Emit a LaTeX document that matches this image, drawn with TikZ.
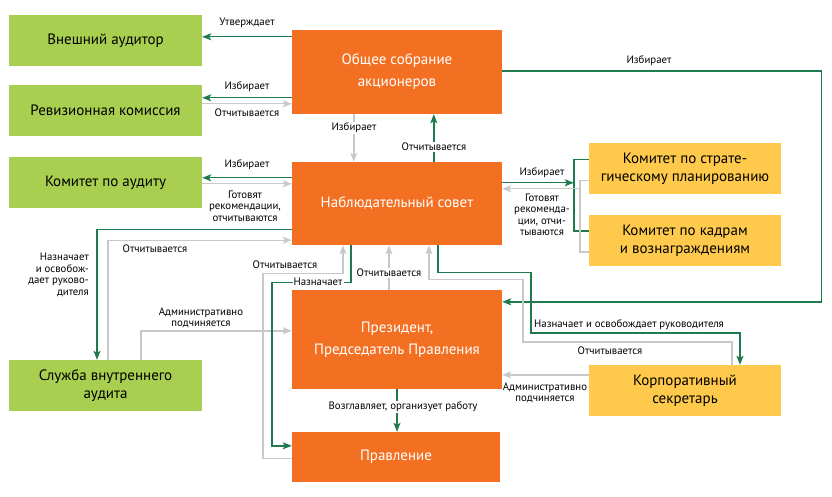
\documentclass[tikz,border=0pt]{standalone}
\usepackage{fontspec}
\setmainfont{PT Sans}
\usetikzlibrary{arrows.meta}
\definecolor{boxgreen}{HTML}{A8CF50}
\definecolor{boxorange}{HTML}{F37022}
\definecolor{boxyellow}{HTML}{FFCA4B}
\definecolor{linegreen}{HTML}{1F7A4D}
\definecolor{linegrey}{HTML}{C8C8C8}
\begin{document}
\begin{tikzpicture}[x=1pt,y=-1pt,
  box/.style={inner sep=0pt,align=center,font=\fontsize{15}{18}\selectfont},
  greenbox/.style={box,fill=boxgreen,minimum width=193pt,minimum height=51pt},
  yellowbox/.style={box,fill=boxyellow,minimum width=192pt,minimum height=51pt},
  orangebox/.style={box,fill=boxorange,text=white,minimum width=210pt,font=\fontsize{15}{22}\selectfont},
  gline/.style={draw=linegreen,line width=1.4pt,-{Stealth[length=9pt,width=7pt,inset=2pt]}},
  grline/.style={draw=linegrey,line width=1.4pt,-{Stealth[length=9pt,width=7pt,inset=2pt]}},
  lbl/.style={inner sep=1pt,align=center,font=\fontsize{10.8}{11.5}\selectfont}]
\useasboundingbox (0,0) rectangle (832,497);

\node[greenbox] (ext) at (105.5,40.5) {Внешний аудитор};
\node[greenbox] (rev) at (105.5,110.5) {Ревизионная комиссия};
\node[greenbox] (aud) at (105.5,182.5) {Комитет по аудиту};
\node[greenbox] (sva) at (105.5,385.5) {Служба внутреннего\\аудита};
\node[orangebox,minimum height=84pt] (gsm) at (397,72) {Общее собрание\\акционеров};
\node[orangebox,minimum height=83pt] (sov) at (397,203.5) {Наблюдательный совет};
\node[orangebox,minimum height=99pt] (pres) at (397,339.5) {Президент,\\Председатель Правления};
\node[orangebox,minimum width=208pt,minimum height=50pt] (prav) at (396,457) {Правление};
\node[yellowbox] (strat) at (685,168.5) {Комитет по страте-\\гическому планированию};
\node[yellowbox] (kadr) at (685,240.5) {Комитет по кадрам\\и вознаграждениям};
\node[yellowbox] (sec) at (685,390.5) {Корпоративный\\секретарь};

% general meeting
\path[gline] ([yshift=-7pt]gsm.north west) -- ([yshift=-22pt]ext.north east);
\path[gline] ([yshift=-68pt]gsm.north west) -- ([yshift=-13pt]rev.north east);
\path[grline] ([yshift=-19pt]rev.north east) -- ([yshift=-74pt]gsm.north west);
\path[grline] ([xshift=62pt]gsm.south west) -- ([xshift=62pt]sov.north west);
\path[gline] ([xshift=142pt]sov.north west) -- ([xshift=142pt]gsm.south west);
\path[gline] ([yshift=1pt]gsm.east) -- ++(319,0) |- ([yshift=-12pt]pres.north east);

% board and committees
\path[gline] ([yshift=-16pt]sov.north west) -- ([yshift=-21pt]aud.north east);
\path[grline] ([yshift=-27pt]aud.north east) -- ([yshift=-22pt]sov.north west);
\path[draw=linegreen,line width=1.4pt] ([yshift=-17pt]strat.north west) -- ++(-15,0) |- ([yshift=-16pt]kadr.north west);
\path[draw=linegrey,line width=1.4pt] ([yshift=-38pt]strat.north west) -- ++(-9,0) |- ([yshift=-37pt]kadr.north west);
\path[gline] ([yshift=-21pt]sov.north east) -- ([xshift=-15pt,yshift=-40pt]strat.north west);
\path[grline] ([xshift=-9pt,yshift=-46pt]strat.north west) -- ([yshift=-27pt]sov.north east);

% internal audit
\path[gline] ([yshift=16pt]sov.south west) -| ([xshift=-8.5pt]sva.north);
\path[grline] ([xshift=2.5pt]sva.north) |- ([yshift=5pt]sov.south west);
\path[grline] ([xshift=35.5pt]sva.north) |- ([yshift=-41pt]pres.north west);

% executive bodies
\path[grline] ([yshift=24pt]prav.south west) -- ++(-29,0) |- ([xshift=-54pt,yshift=-28pt]sov.south) -- ([xshift=-54pt]sov.south);
\path[gline] ([xshift=-46pt]sov.south) -- ++(0,37) -- ++(-79,0) |- ([yshift=-14pt]prav.north west);
\path[grline] ([xshift=-8pt]pres.north) -- ([xshift=-8pt]sov.south);
\path[gline] (pres.south) -- (pres.south |- prav.north);

% secretary
\path[gline] ([xshift=41pt]sov.south) -- ++(0,27) -- ++(93,0) |- ([xshift=55pt,yshift=32pt]sec.north) -- ([xshift=55pt]sec.north);
\path[grline] ([xshift=47pt]sec.north) -- ++(0,-23) -- ++(-209,0) |- ([xshift=32pt,yshift=-34pt]sov.south) -- ([xshift=32pt]sov.south);
\path[grline] ([yshift=-10pt]sec.north west) -- ([yshift=-85pt]pres.north east);

% labels
\node[lbl] (l1) at (247,23) {Утверждает};
\node[lbl] (l2) at (247,87) {Избирает};
\node[lbl] (l3) at (247,113) {Отчитывается};
\node[lbl,fill=white] (l4) at (354,128) {Избирает};
\node[lbl,fill=white] (l5) at (434,147) {Отчитывается};
\node[lbl] (l6) at (247,165) {Избирает};
\node[lbl] (l7) at (245,206) {Готовят\\рекомендации,\\отчитываются};
\node[lbl] (l8) at (542,173) {Избирает};
\node[lbl] (l9) at (542,215) {Готовят\\рекоменда-\\ции, отчи-\\тываются};
\node[lbl,align=right,anchor=east] (l10) at (90,275) {Назначает\\и освобож-\\дает руково-\\дителя};
\node[lbl] (l11) at (155,249) {Отчитывается};
\node[lbl] (l12) at (201,318) {Административно\\подчиняется};
\node[lbl] (l13) at (285,265) {Отчитывается};
\node[lbl,fill=white] (l14) at (318,282) {Назначает};
\node[lbl,fill=white] (l15) at (389,273) {Отчитывается};
\node[lbl] (l16) at (629,325) {Назначает и освобождает руководителя};
\node[lbl] (l17) at (610,351) {Отчитывается};
\node[lbl] (l18) at (649,61) {Избирает};
\node[lbl] (l19) at (545,393) {Административно\\подчиняется};
\node[lbl,fill=white] (l20) at (403,407) {Возглавляет, организует работу};
\end{tikzpicture}
\end{document}
